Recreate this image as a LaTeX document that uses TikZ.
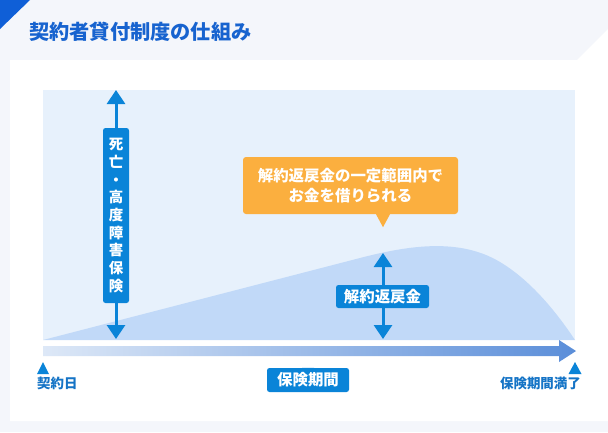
\documentclass[tikz,border=0pt]{standalone}
\usepackage{fontspec}
\newfontfamily\cjk{Noto Sans CJK JP}
\usetikzlibrary{arrows.meta}
\definecolor{accent}{HTML}{0A84D8}
\definecolor{titleblue}{HTML}{1763CF}
\definecolor{textblue}{HTML}{1574C6}
\definecolor{orangec}{HTML}{FBAF3F}
\definecolor{chartbg}{HTML}{E7F1FC}
\definecolor{areac}{HTML}{C1D9F8}
\definecolor{bggrey}{HTML}{F4F6FB}
\definecolor{cornerblue}{HTML}{0F5FD7}
\definecolor{barleft}{HTML}{DDE8F7}
\definecolor{barright}{HTML}{5B8ED9}
\begin{document}
\begin{tikzpicture}[x=1bp,y=-1bp,
  lab/.style={fill=accent, text=white, rounded corners=2.5bp, inner sep=0pt, align=center, font=\cjk\bfseries\fontsize{15.5}{18}\selectfont},
  varrow/.style={draw=accent, line width=3bp, {Triangle[width=18bp,length=14bp]}-{Triangle[width=18bp,length=14bp]}},
  marker/.style={fill=accent},
  botlab/.style={text=textblue, inner sep=0pt, font=\cjk\bfseries\fontsize{13.5}{16}\selectfont}]
\useasboundingbox (0,0) rectangle (608,432);
\fill[bggrey] (0,0) rectangle (608,432);
\fill[cornerblue] (0,0) -- (30,0) -- (0,29) -- cycle;
\fill[white] (10,60) -- (577,60) -- (608,29) -- (608,421) -- (10,421) -- cycle;
\node[anchor=west, inner sep=0pt, text=titleblue, font=\cjk\bfseries\fontsize{20.3}{24}\selectfont] (title) at (29,32) {契約者貸付制度の仕組み};
% chart
\fill[chartbg] (43,90) rectangle (575,340);
\fill[areac] (43,340) -- (360,258) .. controls (410,245) and (460,238) .. (500,262) .. controls (530,280) and (555,310) .. (575,340) -- cycle;
% timeline
\shade[left color=barleft, right color=barright] (43,346) -- (559,346) -- (559,340) -- (576,351) -- (559,362) -- (559,356) -- (43,356) -- cycle;
% left arrow
\coordinate (ltop) at (116,90);
\coordinate (lbot) at (116,339);
\draw[varrow] (ltop) -- (lbot);
\node[lab, minimum width=26bp, minimum height=175bp, font=\cjk\bfseries\fontsize{14.5}{17.7}\selectfont] (death) at (116,215.5) {死\\亡\\・\\高\\度\\障\\害\\保\\険};
% middle arrow
\coordinate (mtop) at (383,253);
\coordinate (mbot) at (383,339);
\draw[varrow] (mtop) -- (mbot);
\node[lab, minimum width=93bp, minimum height=23bp] (surr) at (382.5,296.5) {解約返戻金};
% callout
\node[lab, fill=orangec, rounded corners=3bp, minimum width=215bp, minimum height=57bp, font=\cjk\bfseries\fontsize{15.5}{20}\selectfont] (call) at (350.5,185.5) {解約返戻金の一定範囲内で\\お金を借りられる};
\fill[orangec] ([xshift=-7bp]call.south -| mtop) -- ([xshift=7bp]call.south -| mtop) -- ([yshift=-13bp]call.south -| mtop) -- cycle;
% bottom markers
\fill[marker] (43,362) -- (49,374) -- (37,374) -- cycle;
\node[botlab, anchor=north west] (start) at (37,377) {契約日};
\fill[marker] (575,362) -- (581.5,374) -- (568.5,374) -- cycle;
\node[botlab, anchor=north east] (end) at (581,377) {保険期間満了};
\node[lab, minimum width=82bp, minimum height=24bp] (period) at (308,380) {保険期間};
\fill[accent] ([xshift=-6bp]period.north) -- ([xshift=6bp]period.north) -- ([yshift=-7bp]period.north) -- cycle;
\end{tikzpicture}
\end{document}
